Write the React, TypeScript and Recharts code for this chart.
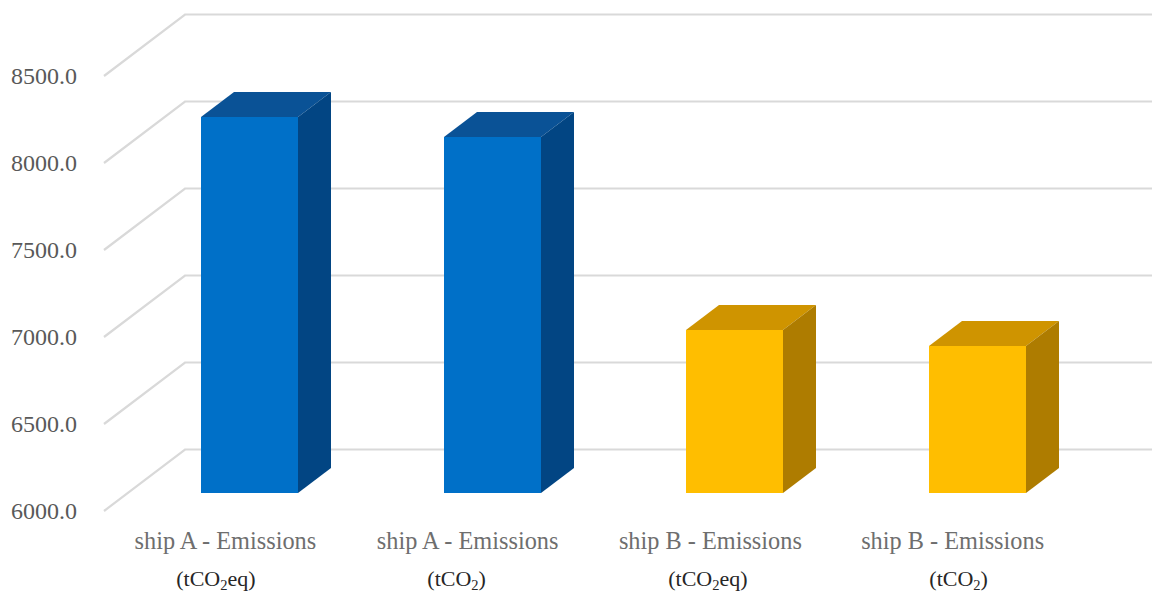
import React from "react";
import { BarChart, Bar, CartesianGrid, XAxis, YAxis } from "recharts";

// Emissions per ship and measure
const shipNames = ["ship A - Emissions", "ship A - Emissions", "ship B - Emissions", "ship B - Emissions"];
const unitBases = ["(tCO", "(tCO", "(tCO", "(tCO"];
const unitSuffixes = ["eq)", ")", "eq)", ")"];
const emissions = [8161, 8046, 6937, 6845];
const yTicks = [6000, 6500, 7000, 7500, 8000, 8500];

// Face colours for each ship: front, top, side
const faces: Record<string, string[]> = {
  A: ["#0070C8", "#0A5296", "#024583"],
  B: ["#FFBE00", "#CF9400", "#AE7C00"],
};
const barShips = ["A", "A", "B", "B"];

// Pseudo-3D depth of the box and of the chart's floor
const DEPTH_X = 33;
const DEPTH_Y = 25;
const WALL_LEFT = 185;
const WALL_RIGHT = 1152;
const FLOOR_LEFT = 104;
const WALL_RISE = 43.5;
const FLOOR_DROP = 18;

// Horizontal offsets of the captions from the centre of each bar
const nameOffsets = [-24, -24.5, -24.5, -25];
const unitOffsets = [-33.5, -35.5, -27, -19];

const rows = shipNames.map((name, i) => ({ name, value: emissions[i] }));

const FONT = '"Liberation Serif", "Times New Roman", serif';

function GridLine(props: any) {
  const y = props.y1;
  return (
    <path
      key={props.key}
      d={`M${FLOOR_LEFT},${y + FLOOR_DROP}L${WALL_LEFT},${y - WALL_RISE}L${WALL_RIGHT},${y - WALL_RISE}`}
      fill="none"
      stroke="#D9D9D9"
      strokeWidth={2.2}
    />
  );
}

function Box(props: any) {
  const { index } = props;
  const [front, top, side] = faces[barShips[index]];
  // Whole-pixel edges keep the faces from showing seams where they meet
  const x = Math.round(props.x);
  const y = Math.round(props.y);
  const r = Math.round(props.x + props.width);
  const b = Math.round(props.y + props.height);
  return (
    <g>
      <path d={`M${x},${y}L${x + DEPTH_X},${y - DEPTH_Y}L${r + DEPTH_X},${y - DEPTH_Y}L${r},${y}Z`} fill={top} />
      <path d={`M${r},${y}L${r + DEPTH_X},${y - DEPTH_Y}L${r + DEPTH_X},${b - DEPTH_Y}L${r},${b}Z`} fill={side} />
      <rect x={x} y={y} width={r - x} height={b - y} fill={front} />
    </g>
  );
}

function ValueTick(props: any) {
  const { y, payload } = props;
  return (
    <text x={77} y={y + FLOOR_DROP + 8} textAnchor="end" fontFamily={FONT} fontSize={24} fill="#595959">
      {payload.value.toFixed(1)}
    </text>
  );
}

function CategoryTick(props: any) {
  const { x, payload, index } = props;
  return (
    <g>
      <text x={x + nameOffsets[index]} y={548.5} textAnchor="middle" fontFamily={FONT} fontSize={24.3} fill="#6E6E6E">
        {payload.value}
      </text>
      <text x={x + unitOffsets[index]} y={586} textAnchor="middle" fontFamily={FONT} fontSize={22} fill="#262626">
        {unitBases[index]}
        <tspan fontSize={14.5} dy={4}>2</tspan>
        <tspan dy={-4}>{unitSuffixes[index]}</tspan>
      </text>
    </g>
  );
}

export default function App() {
  return (
    <div style={{ position: "absolute", left: 0, top: 0, width: 1152, height: 594, background: "#fff" }}>
      <BarChart
        width={1152}
        height={594}
        data={rows}
        margin={{ top: 58, right: 53, bottom: 0, left: 0 }}
        barCategoryGap="30%"
      >
        <CartesianGrid vertical={false} horizontal={GridLine as any} />
        <XAxis dataKey="name" height={101} axisLine={false} tickLine={false} interval={0} tick={<CategoryTick />} />
        <YAxis
          width={128}
          domain={[6000, 8500]}
          ticks={yTicks}
          allowDataOverflow
          axisLine={false}
          tickLine={false}
          tick={<ValueTick />}
        />
        <Bar dataKey="value" isAnimationActive={false} shape={<Box />} />
      </BarChart>
    </div>
  );
}
